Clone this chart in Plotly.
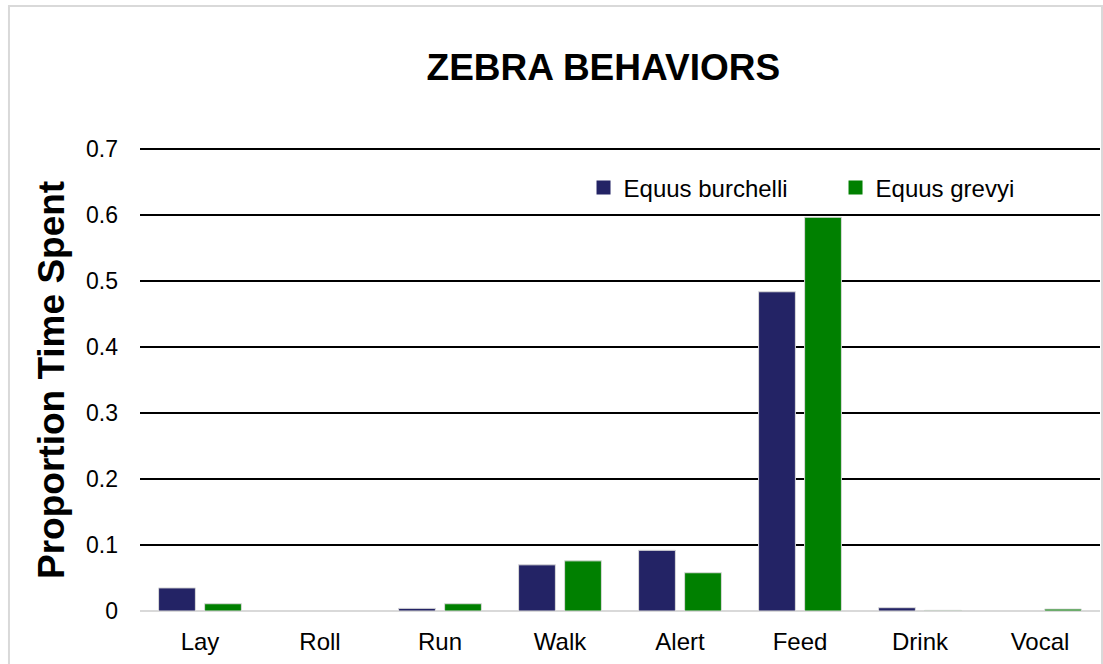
import plotly.graph_objects as go

# Data
behaviors = ["Lay", "Roll", "Run", "Walk", "Alert", "Feed", "Drink", "Vocal"]
burchelli = [0.035, 0.0, 0.004, 0.070, 0.092, 0.484, 0.005, 0.0]
grevyi = [0.011, 0.0, 0.011, 0.076, 0.058, 0.597, 0.001, 0.003]
series_names = ["Equus burchelli", "Equus grevyi"]
y_ticks = [0, 0.1, 0.2, 0.3, 0.4, 0.5, 0.6, 0.7]

_FONT = "Arial, Liberation Sans, sans-serif"
_COLOURS = ["#232365", "#008000"]
_OUTLINE = "#D9D9D9"

fig = go.Figure()
for name, values, colour in zip(series_names, [burchelli, grevyi], _COLOURS):
    fig.add_trace(
        go.Bar(
            name=name,
            x=behaviors,
            y=values,
            marker={"color": colour, "line": {"color": _OUTLINE, "width": 1}},
            showlegend=False,
        )
    )

# legend entries with larger square swatches
for name, colour in zip(series_names, _COLOURS):
    fig.add_trace(
        go.Scatter(
            name=name,
            x=[None],
            y=[None],
            mode="markers",
            marker={"symbol": "square", "size": 14, "color": colour},
            showlegend=True,
        )
    )

fig.update_layout(
    width=1103,
    height=664,
    margin={"l": 140, "r": 3, "t": 146, "b": 53},
    paper_bgcolor="white",
    plot_bgcolor="white",
    font={"family": _FONT, "color": "black"},
    barmode="group",
    bargap=0.233,
    bargroupgap=0.2,
    title={
        "text": "<b>ZEBRA BEHAVIORS</b>",
        "font": {"size": 37, "family": _FONT},
        "x": 0.547,
        "xref": "container",
        "xanchor": "center",
        "y": 0.899,
        "yref": "container",
        "yanchor": "middle",
    },
    legend={
        "orientation": "h",
        "x": 0.462,
        "xanchor": "left",
        "y": 0.9097,
        "yanchor": "middle",
        "font": {"size": 24},
        "bgcolor": "rgba(0,0,0,0)",
        "entrywidth": 207,
        "itemwidth": 30,
    },
)

fig.update_xaxes(
    showgrid=False,
    showline=False,
    tickfont={"size": 24},
    ticklabelstandoff=14,
)
fig.update_yaxes(
    range=[0, 0.705],
    tickvals=y_ticks,
    ticktext=[f"{v:g}" for v in y_ticks],
    tickfont={"size": 23},
    showgrid=True,
    gridcolor="black",
    gridwidth=1.5,
    zeroline=True,
    zerolinecolor=_OUTLINE,
    zerolinewidth=2,
    ticklabelstandoff=21,
)

# y-axis title placed as a rotated annotation
fig.add_annotation(
    text="<b>Proportion Time Spent</b>",
    xref="paper",
    yref="paper",
    x=-0.0917,
    y=0.4968,
    xanchor="center",
    yanchor="middle",
    textangle=-90,
    showarrow=False,
    font={"size": 37, "family": _FONT},
)

# light grey chart border
fig.add_shape(
    type="rect",
    xref="paper",
    yref="paper",
    x0=-0.1365,
    x1=1.0021,
    y0=-0.2,
    y1=1.301,
    line={"color": _OUTLINE, "width": 2},
    fillcolor="rgba(0,0,0,0)",
    layer="below",
)

# drop the default 8px page margin so the figure fills the window
fig.write_html(
    "out.html",
    config={"displayModeBar": False},
    post_script="document.body.style.margin = '0';",
)
